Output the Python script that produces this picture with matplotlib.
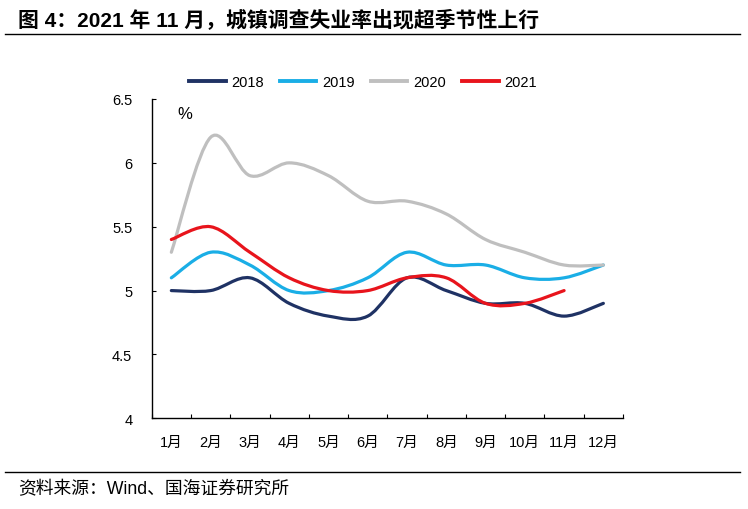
import numpy as np
import matplotlib
matplotlib.use("Agg")
import matplotlib.pyplot as plt
from matplotlib.path import Path
from matplotlib.patches import PathPatch
from matplotlib.lines import Line2D

months = ["1月", "2月", "3月", "4月", "5月", "6月", "7月", "8月", "9月", "10月", "11月", "12月"]
years = ["2018", "2019", "2020", "2021"]
rate_2018 = [5.0, 5.0, 5.1, 4.9, 4.8, 4.8, 5.1, 5.0, 4.9, 4.9, 4.8, 4.9]
rate_2019 = [5.1, 5.3, 5.2, 5.0, 5.0, 5.1, 5.3, 5.2, 5.2, 5.1, 5.1, 5.2]
rate_2020 = [5.3, 6.2, 5.9, 6.0, 5.9, 5.7, 5.7, 5.6, 5.4, 5.3, 5.2, 5.2]
rate_2021 = [5.4, 5.5, 5.3, 5.1, 5.0, 5.0, 5.1, 5.1, 4.9, 4.9, 5.0]
colors = ["#1F3264", "#1AAEE6", "#BFBFBF", "#E8141C"]

FONT = ["Liberation Sans", "Noto Sans CJK SC", "DejaVu Sans"]
plt.rcParams["font.family"] = FONT


def smooth_path(x, y):
    # Excel style smoothed line: cubic bezier through every point
    pts = np.column_stack([x, y]).astype(float)
    n = len(pts)
    verts = [pts[0]]
    codes = [Path.MOVETO]
    for i in range(n - 1):
        p0 = pts[i - 1] if i > 0 else pts[i]
        p1 = pts[i]
        p2 = pts[i + 1]
        p3 = pts[i + 2] if i + 2 < n else pts[i + 1]
        c1 = p1 + (p2 - p0) / 6.0
        c2 = p2 - (p3 - p1) / 6.0
        verts += [c1, c2, p2]
        codes += [Path.CURVE4] * 3
    return Path(verts, codes)


fig = plt.figure(figsize=(7.48, 5.10), dpi=100)
ax = fig.add_axes([151.7 / 748, 1 - 419.3 / 510, (623 - 151.7) / 748, (419.3 - 100) / 510])

series = [rate_2018, rate_2019, rate_2020, rate_2021]
handles = []
for vals, c, lab in zip(series, colors, years):
    xs = np.arange(len(vals))
    patch = PathPatch(smooth_path(xs, vals), fill=False, edgecolor=c, lw=2.3,
                      capstyle="round", joinstyle="round")
    ax.add_patch(patch)
    handles.append(Line2D([], [], color=c, lw=2.8, label=lab))

ax.set_xlim(-0.5, 11.5)
ax.set_ylim(4, 6.5)
ax.set_yticks([4, 4.5, 5, 5.5, 6, 6.5])
ax.set_yticklabels(["4", "4.5", "5", "5.5", "6", "6.5"], fontsize=10.5)
ax.set_xticks(np.arange(-0.5, 12, 1))
ax.set_xticklabels([])
ax.set_xticks(np.arange(12), minor=True)
ax.set_xticklabels(months, minor=True, fontsize=10.5)
ax.tick_params(axis="x", which="major", direction="in", length=3, width=0.8)
ax.tick_params(axis="x", which="minor", length=0, pad=12)
ax.tick_params(axis="y", direction="in", length=3, width=0.8, pad=14)
for s in ["top", "right"]:
    ax.spines[s].set_visible(False)
for s in ["left", "bottom"]:
    ax.spines[s].set_linewidth(1.0)

ax.text(0.055, 0.955, "%", transform=ax.transAxes, fontsize=12, va="center", ha="left")

fig.legend(handles=handles, loc="center", bbox_to_anchor=(363 / 748, 1 - 83 / 510),
           ncol=4, frameon=False, fontsize=10.5, handlelength=2.5, handletextpad=0.4,
           columnspacing=1.1)

fig.text(18 / 748, 1 - 20 / 510, "图 4：2021 年 11 月，城镇调查失业率出现超季节性上行",
         fontsize=15, fontweight="bold", family=FONT, va="center", ha="left")
fig.add_artist(Line2D([5 / 748, 740 / 748], [1 - 35 / 510, 1 - 35 / 510], color="black", lw=1.0))
fig.add_artist(Line2D([5 / 748, 740 / 748], [1 - 473 / 510, 1 - 473 / 510], color="black", lw=1.0))
fig.text(18 / 748, 1 - 490 / 510, "资料来源：Wind、国海证券研究所", fontsize=12.8,
         family=FONT, va="center", ha="left")

fig.savefig("out.png", dpi=100)
